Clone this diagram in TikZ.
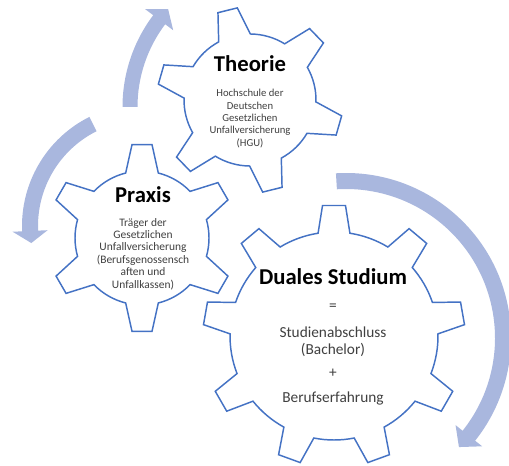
\documentclass[tikz,border=0pt]{standalone}
\usepackage{fontspec}
\setmainfont{Carlito}
\definecolor{gearblue}{HTML}{4472C4}
\definecolor{arrowblue}{HTML}{A9B7DE}
\definecolor{subgray}{HTML}{404040}
\tikzset{
  gearline/.style={draw=gearblue, line width=1.1pt, fill=white, line join=miter},
  arrowfill/.style={fill=arrowblue, draw=none},
  titletext/.style={font=\fontsize{17}{20}\selectfont\bfseries, text=black, inner sep=0pt},
  subtext/.style={font=\fontsize{8}{9.3}\selectfont, text=subgray, align=center, inner sep=0pt},
  subtextp/.style={font=\fontsize{8.6}{9.3}\selectfont, text=subgray, align=center, inner sep=0pt},
  bigtext/.style={font=\fontsize{11.5}{13}\selectfont, text=subgray, align=center, inner sep=0pt}
}
% cx cy N R r tiphw basehw rot
\newcommand{\drawgear}[8]{%
  \pgfmathsetmacro\gTa{deg(#6/#4)}%
  \pgfmathsetmacro\gBa{deg(#7/#5)}%
  \pgfmathsetmacro\gStep{360/#3}%
  \pgfmathtruncatemacro\gLast{#3-1}%
  \begin{scope}[shift={(#1,#2)}]
  \path[gearline] ({#8-\gBa}:#5)
    \foreach \i in {0,...,\gLast}{
      -- ({#8+\i*\gStep-\gTa}:#4) -- ({#8+\i*\gStep+\gTa}:#4) -- ({#8+\i*\gStep+\gBa}:#5)
      arc[start angle={#8+\i*\gStep+\gBa}, end angle={#8+(\i+1)*\gStep-\gBa}, radius=#5]
    } -- cycle;
  \end{scope}}
% cx cy r hw headhw start base tip
\newcommand{\circarrow}[8]{%
  \begin{scope}[shift={(#1,#2)}]
  \path[arrowfill] (#6:{#3+#4}) arc[start angle=#6, end angle=#7, radius={#3+#4}]
    -- (#7:{#3+#5}) -- (#8:#3) -- (#7:{#3-#5}) -- (#7:{#3-#4})
    arc[start angle=#7, end angle=#6, radius={#3-#4}] -- cycle;
  \end{scope}}
\begin{document}
\begin{tikzpicture}[x=0.75pt, y=0.75pt]
\useasboundingbox (0,0) rectangle (509,-466);
% arrows
\circarrow{275}{-107}{145}{7.5}{17.5}{180}{143}{137.5}
\circarrow{144}{-226}{114}{8}{17.5}{116.6}{182.5}{188.6}
\circarrow{346}{-338}{157}{8}{17}{93.5}{-38.5}{-44}
% gears
\drawgear{250}{-100}{6}{93}{66}{10}{16.5}{104}
\drawgear{142}{-238}{6}{94}{67}{10}{16.5}{90}
\drawgear{334}{-336}{9}{131}{104}{11.5}{16}{90}
% texts
\node[titletext] (theorie) at (250,-64) {Theorie};
\node[subtext] (theoriesub) at (250,-118.5) {Hochschule der\\Deutschen\\Gesetzlichen\\Unfallversicherung\\(HGU)};
\node[titletext] (praxis) at (143,-195) {Praxis};
\node[subtextp] (praxissub) at (143,-254) {Träger der\\Gesetzlichen\\Unfallversicherung\\(Berufsgenossensch\\aften und\\Unfallkassen)};
\node[titletext] (duales) at (333,-277) {Duales Studium};
\node[bigtext] (eq) at (333,-307) {=};
\node[bigtext] (abschluss) at (333,-341.5) {Studienabschluss\\(Bachelor)};
\node[bigtext] (plus) at (333,-373) {+};
\node[bigtext] (beruf) at (333,-398) {Berufserfahrung};
\end{tikzpicture}
\end{document}
